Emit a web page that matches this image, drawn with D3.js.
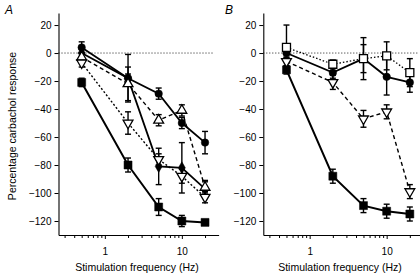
<!DOCTYPE html>
<html><head><meta charset="utf-8">
<script src="https://cdn.jsdelivr.net/npm/d3@7"></script>
<style>
body{margin:0;background:#fff;}
svg{display:block;font-family:"Liberation Sans",Arial,Helvetica,sans-serif;}
</style></head>
<body>
<svg id="c" width="420" height="277"></svg>
<script>
// ---- data ----
const freqs = [0.5, 2, 5, 10, 20];
const yTickValues = [20, 0, -20, -40, -60, -80, -100, -120];
const xMajorTicks = [1, 10];
const xMinorTicks = [0.3,0.4,0.5,0.6,0.7,0.8,0.9,2,3,4,5,6,7,8,9,20];

// Panel A
const aSquare = [-21, -80, -110, -120, -121];
const aSquareErr = [3, 5, 6, 4, 2];
const aCircle = [4, -18, -29, -50, -64];
const aCircleErr = [4, 3, 4, 4, 8];
const aDiamond = [0, -18, -81, -82, -97];
const aDiamondErr = [3, 17, 13, 18, 6];
const aUpTri = [-3, -22, -48, -41, -96];
const aUpTriErr = [3, 12, 4, 4, 4];
const aDownTri = [-7, -50, -76, -88, -103];
const aDownTriErr = [3, 8, 4, 5, 4];

// Panel B
const bSquare = [-12, -88, -109, -113, -115];
const bSquareErr = [3, 5, 5, 5, 5];
const bCircle = [0, -14, -4, -17, -21];
const bCircleErr = [3, 4, 10, 13, 7];
const bOpenSquare = [4, -8, -4, -2, -14];
const bOpenSquareErr = [16, 3, 15, 10, 10];
const bDownTri = [-6, -21, -47, -42, -99];
const bDownTriErr = [3, 5, 6, 5, 5];

const svg = d3.select("#c");
const y = d3.scaleLinear().domain([-130, 28.6]).range([235, 13]);

const panels = [
  {letter:"A", x0:58.5, letterX:5, labelCx:137,
   series:[
     {v:aSquare, e:aSquareErr, sym:"square", fill:"#000", dash:null, lw:2},
     {v:aCircle, e:aCircleErr, sym:"circle", fill:"#000", dash:null, lw:1.8},
     {v:aDiamond, e:aDiamondErr, sym:"diamond", fill:"#000", dash:null, lw:1.8},
     {v:aUpTri, e:aUpTriErr, sym:"up", fill:"#fff", dash:"4,3", lw:1.4},
     {v:aDownTri, e:aDownTriErr, sym:"down", fill:"#fff", dash:"2,2", lw:1.4}
   ]},
  {letter:"B", x0:263.3, letterX:225, labelCx:340,
   series:[
     {v:bSquare, e:bSquareErr, sym:"square", fill:"#000", dash:null, lw:2},
     {v:bCircle, e:bCircleErr, sym:"circle", fill:"#000", dash:null, lw:1.8},
     {v:bDownTri, e:bDownTriErr, sym:"down", fill:"#fff", dash:"4,3", lw:1.4},
     {v:bOpenSquare, e:bOpenSquareErr, sym:"osquare", fill:"#fff", dash:"1.5,2", lw:1.3}
   ]}
];

const symMap = {
  square: d3.symbol().type(d3.symbolSquare).size(64),
  osquare: d3.symbol().type(d3.symbolSquare).size(64),
  circle: d3.symbol().type(d3.symbolCircle).size(44),
  diamond: d3.symbol().type(d3.symbolDiamond).size(42),
  up: d3.symbol().type(d3.symbolTriangle).size(42),
  down: d3.symbol().type(d3.symbolTriangle).size(42)
};

panels.forEach((p, pi) => {
  const x = d3.scaleLog().domain([0.25, 30]).range([p.x0, p.x0 + Math.log10(120) * 77]);
  const g = svg.append("g");

  // zero reference line
  g.append("line")
    .attr("x1", p.x0).attr("x2", x(25))
    .attr("y1", y(0)).attr("y2", y(0))
    .attr("stroke", "#000").attr("stroke-width", 0.9)
    .attr("stroke-dasharray", "1,2");

  // y axis
  const ya = g.append("g").attr("transform", `translate(${p.x0},0)`)
    .call(d3.axisLeft(y).tickValues(yTickValues).tickSize(4).tickPadding(3).tickSizeOuter(0));
  ya.selectAll("text").attr("font-size", 10).attr("font-family", "Liberation Sans,Arial,sans-serif");
  ya.select(".domain").attr("stroke-width", 1.1);

  // x axis
  const xa = g.append("g").attr("transform", `translate(0,235)`)
    .call(d3.axisBottom(x).tickValues(xMajorTicks.concat(xMinorTicks))
      .tickFormat(d => xMajorTicks.includes(d) ? d3.format("d")(d) : "")
      .tickSize(3).tickPadding(10).tickSizeOuter(0));
  xa.selectAll(".tick").filter(d => xMajorTicks.includes(d)).select("line").attr("y2", 4);
  xa.selectAll("text").attr("font-size", 10).attr("font-family", "Liberation Sans,Arial,sans-serif");
  xa.select(".domain").attr("stroke-width", 1.1);

  // x label
  g.append("text").attr("x", p.labelCx).attr("y", 271)
    .attr("text-anchor", "middle").attr("font-size", 10.5)
    .text("Stimulation frequency (Hz)");

  // panel letter
  g.append("text").attr("x", p.letterX).attr("y", 14)
    .attr("font-size", 12).attr("font-style", "italic")
    .text(p.letter);

  // lines
  p.series.forEach(s => {
    g.append("path")
      .datum(freqs.map((f, i) => [f, s.v[i]]))
      .attr("fill", "none").attr("stroke", "#000")
      .attr("stroke-width", s.lw)
      .attr("stroke-dasharray", s.dash)
      .attr("d", d3.line().x(d => x(d[0])).y(d => y(d[1])));
  });

  // error bars
  p.series.forEach(s => {
    freqs.forEach((f, i) => {
      const cx = x(f), top = y(s.v[i] + s.e[i]), bot = y(s.v[i] - s.e[i]);
      const eg = g.append("g").attr("stroke", "#000").attr("stroke-width", 1.4);
      eg.append("line").attr("x1", cx).attr("x2", cx).attr("y1", top).attr("y2", bot);
      eg.append("line").attr("x1", cx - 3).attr("x2", cx + 3).attr("y1", top).attr("y2", top);
      eg.append("line").attr("x1", cx - 3).attr("x2", cx + 3).attr("y1", bot).attr("y2", bot);
    });
  });

  // markers
  p.series.forEach(s => {
    g.selectAll(null).data(freqs.map((f, i) => [f, s.v[i]])).enter()
      .append("path")
      .attr("d", symMap[s.sym])
      .attr("transform", d => `translate(${x(d[0])},${y(d[1])})` + (s.sym === "down" ? " rotate(180)" : ""))
      .attr("fill", s.fill)
      .attr("stroke", "#000")
      .attr("stroke-width", s.fill === "#fff" ? 1.3 : 0.5);
  });
});

// y label
svg.append("text")
  .attr("transform", "translate(16,126) rotate(-90)")
  .attr("text-anchor", "middle").attr("font-size", 10.5)
  .text("Percentage carbachol response");
</script>
</body></html>
